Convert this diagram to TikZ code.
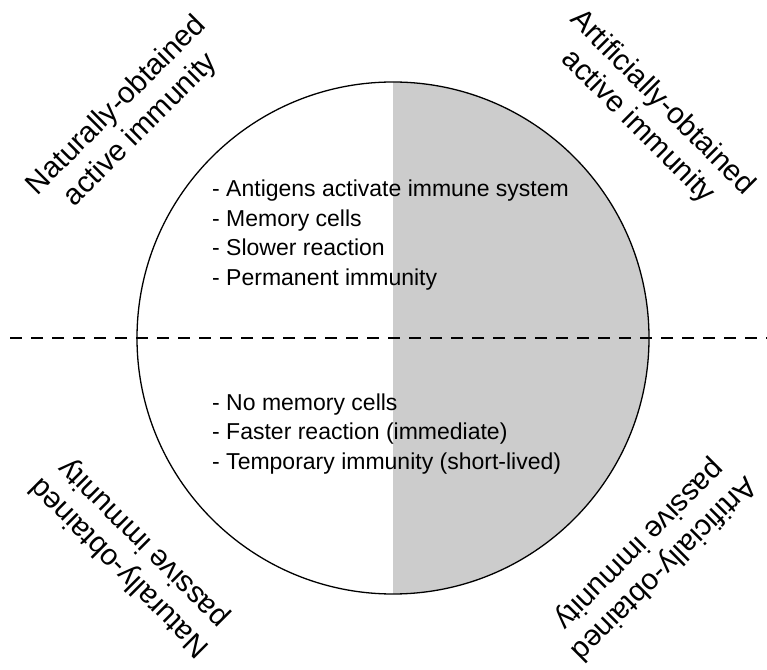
\documentclass[tikz,border=0pt]{standalone}
\usepackage{fontspec}
\setmainfont{Liberation Sans}
\begin{document}
\begin{tikzpicture}[x=1pt, y=1pt,
    corner/.style={align=center, font=\fontsize{29.5}{34}\selectfont, inner sep=0pt},
    facts/.style={align=left, font=\fontsize{23}{29.5}\selectfont, anchor=west, inner sep=0pt},
    ]
\useasboundingbox (0,0) rectangle (767,669);

% circle, right half shaded
\coordinate (c) at (393,331);
\fill[gray!40] ([yshift=256pt]c) arc (90:-90:256) -- cycle;
\draw[line width=1.3pt] (c) circle (256);

% dividing line
\coordinate (dl) at (10,331);
\coordinate (dr) at (767,331);
\draw[line width=1.3pt, dash pattern=on 12pt off 9pt] (dl) -- (dr);

\node[facts] (active) at (212,434) {- Antigens activate immune system\\- Memory cells\\- Slower reaction\\- Permanent immunity};
\node[facts] (passive) at (212,235) {- No memory cells\\- Faster reaction (immediate)\\- Temporary immunity (short-lived)};

\node[corner, rotate=45] (natact) at (129,551) {Naturally-obtained\\active immunity};
\node[corner, rotate=-45] (artact) at (650,554) {Artificially-obtained\\active immunity};
\node[corner, rotate=135] (natpas) at (132,114) {Naturally-obtained\\passive immunity};
\node[corner, rotate=225] (artpas) at (651,113) {Artificially-obtained\\passive immunity};

\end{tikzpicture}
\end{document}
